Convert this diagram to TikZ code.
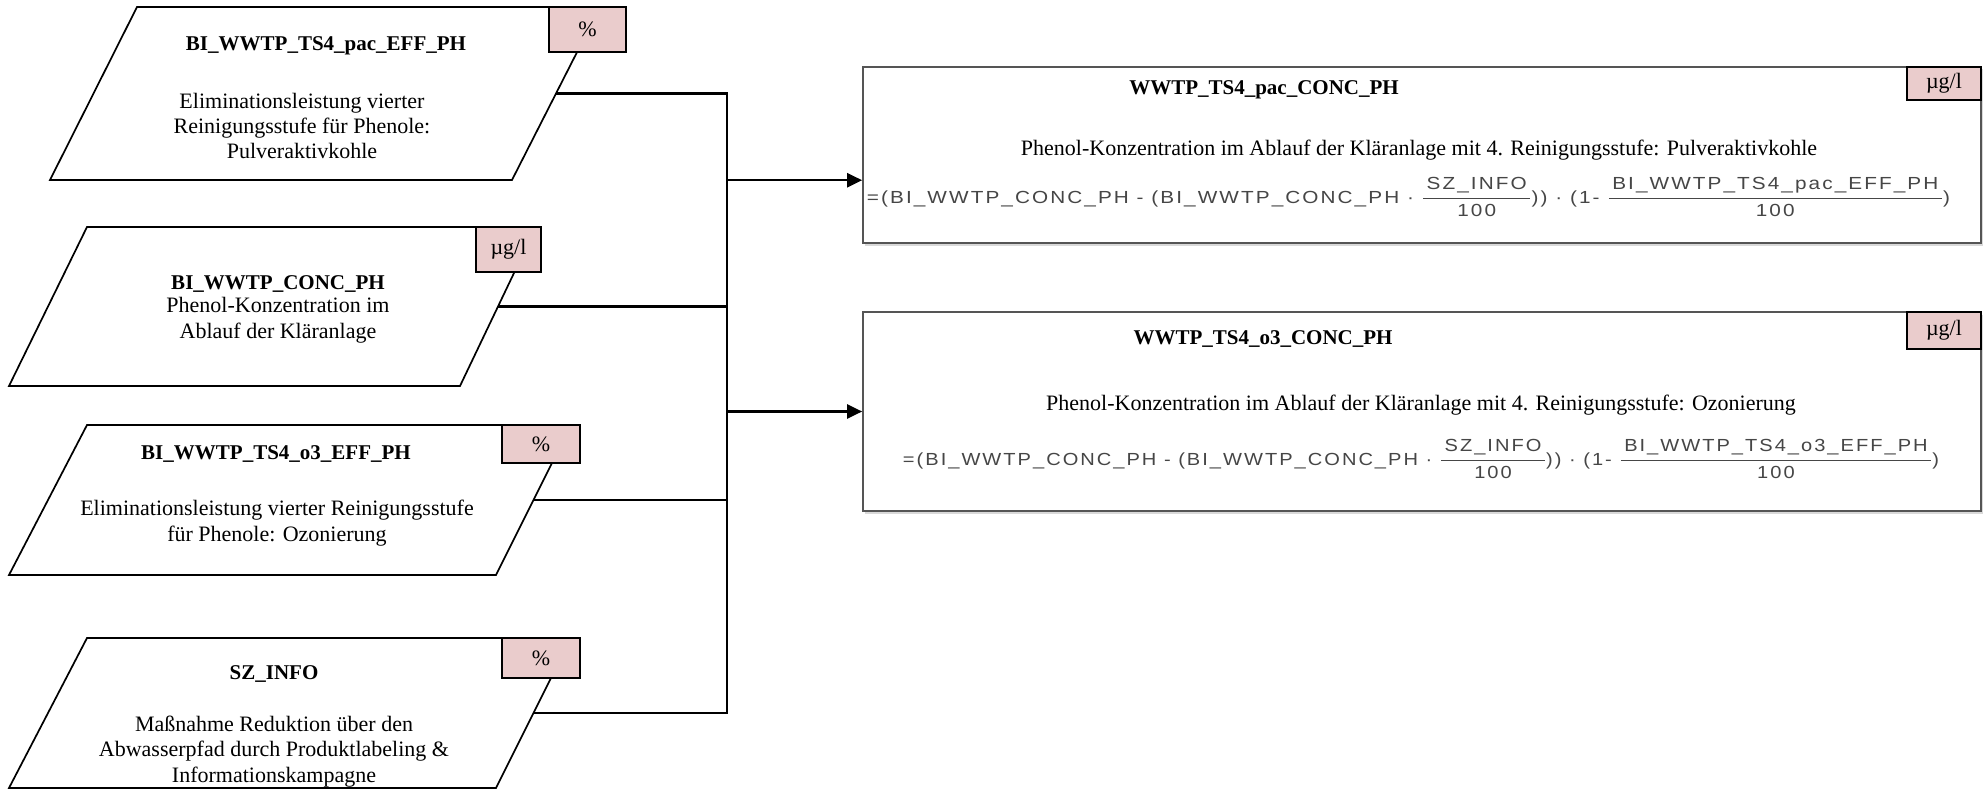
\documentclass[tikz,border=0pt]{standalone}
\usepackage{fontspec}
\usepackage{amsmath}
\usepackage{graphicx}
\setmainfont{Liberation Serif}
\newfontfamily\formfont{Liberation Sans}[LetterSpace=10]
\usetikzlibrary{arrows.meta,calc,shadows}
\definecolor{unitfill}{RGB}{234,204,204}
\definecolor{framegray}{RGB}{85,85,85}
\definecolor{formtext}{RGB}{70,70,70}
\newcommand\bodysize{\fontsize{22}{25.5}\selectfont}
\newcommand\titlesize{\fontsize{21}{25.5}\selectfont\bfseries}
\newcommand\formsize{\fontsize{17.5}{21}\selectfont}
\newcommand\ffrac[2]{$\genfrac{}{}{1.6pt}{0}{\text{\,#1\,}}{\text{#2}}$}

\begin{document}
\begin{tikzpicture}[x=1pt,y=-1pt,
  para/.style={draw=black,line width=1.7pt,line join=miter},
  unitbox/.style={draw=black,line width=1.7pt,fill=unitfill,inner sep=0pt,font=\bodysize},
  title/.style={anchor=base,inner sep=0pt,font=\titlesize},
  body/.style={anchor=base,inner sep=0pt,align=center,font=\bodysize},
  calcbox/.style={draw=framegray,line width=1.7pt,fill=white,inner sep=0pt,
    drop shadow={shadow xshift=1.5pt,shadow yshift=-2.5pt,fill=black,opacity=0.15}},
  formula/.style={anchor=base,inner sep=0pt,text=formtext,font=\formsize\formfont},
  link/.style={line width=2.3pt},
  feed/.style={link,-{Triangle[length=15pt,width=14pt]}}]

\useasboundingbox (0,0) rectangle (1984,789);

% ---------- input parameters (parallelograms) ----------
\coordinate (p1tl) at (137,7);  \coordinate (p1tr) at (600,7);
\coordinate (p1br) at (512,180); \coordinate (p1bl) at (50,180);
\coordinate (p2tl) at (87,227);  \coordinate (p2tr) at (536,227);
\coordinate (p2br) at (460,386); \coordinate (p2bl) at (9,386);
\coordinate (p3tl) at (87,425);  \coordinate (p3tr) at (571,425);
\coordinate (p3br) at (496,575); \coordinate (p3bl) at (9,575);
\coordinate (p4tl) at (87,638);  \coordinate (p4tr) at (571,638);
\coordinate (p4br) at (496,788); \coordinate (p4bl) at (9,788);

\foreach \p in {p1,p2,p3,p4}{
  \draw[para] (\p bl) -- (\p tl) -- (\p tr) -- (\p br) -- cycle;
  \coordinate (\p e) at ($(\p tr)!0.5!(\p br)$);
}

\node[unitbox,minimum width=77pt,minimum height=45pt] (u1) at (587.5,29.5) {\%};
\node[unitbox,minimum width=65pt,minimum height=45pt] (u2) at (508.5,249.5) {µg/l};
\node[unitbox,minimum width=78pt,minimum height=38pt] (u3) at (541,444) {\%};
\node[unitbox,minimum width=78pt,minimum height=40pt] (u4) at (541,658) {\%};

% multi-line texts are anchored at the baseline of their last line
\node[title] (t1) at (326,51) {BI\_WWTP\_TS4\_pac\_EFF\_PH};
\node[body]  (d1) at (302,159) {Eliminationsleistung vierter\\Reinigungsstufe für Phenole:\\Pulveraktivkohle};

\node[title] (t2) at (278,289) {BI\_WWTP\_CONC\_PH};
\node[body]  (d2) at (278,338) {Phenol-Konzentration im\\Ablauf der Kläranlage};

\node[title] (t3) at (276,459) {BI\_WWTP\_TS4\_o3\_EFF\_PH};
\node[body]  (d3) at (277,541) {Eliminationsleistung vierter Reinigungsstufe\\für Phenole: Ozonierung};

\node[title] (t4) at (274,679) {SZ\_INFO};
\node[body]  (d4) at (274,782) {Maßnahme Reduktion über den\\Abwasserpfad durch Produktlabeling \&\\Informationskampagne};

% ---------- calculated variables ----------
\node[calcbox,minimum width=1118pt,minimum height=176pt] (ca) at (1422,155) {};
\node[calcbox,minimum width=1118pt,minimum height=199pt] (cb) at (1422,411.5) {};

\node[unitbox,minimum width=74pt,minimum height=33pt] (ua) at (1944,83.5) {µg/l};
\node[unitbox,minimum width=74pt,minimum height=37pt] (ub) at (1944,330.5) {µg/l};

\node[title] (ta) at (1264,95) {WWTP\_TS4\_pac\_CONC\_PH};
\node[body]  (da) at (1419,156) {Phenol-Konzentration im Ablauf der Kläranlage mit 4. Reinigungsstufe: Pulveraktivkohle};
\node[formula] (fa) at (1408.5,203) {\resizebox{1083pt}{\height}{=(BI\_WWTP\_CONC\_PH - (BI\_WWTP\_CONC\_PH · \ffrac{SZ\_INFO}{100})) · (1- \ffrac{BI\_WWTP\_TS4\_pac\_EFF\_PH}{100})}};

\node[title] (tb) at (1263,344) {WWTP\_TS4\_o3\_CONC\_PH};
\node[body]  (db) at (1421,410) {Phenol-Konzentration im Ablauf der Kläranlage mit 4. Reinigungsstufe: Ozonierung};
\node[formula] (fb) at (1421,465) {\resizebox{1036pt}{\height}{=(BI\_WWTP\_CONC\_PH - (BI\_WWTP\_CONC\_PH · \ffrac{SZ\_INFO}{100})) · (1- \ffrac{BI\_WWTP\_TS4\_o3\_EFF\_PH}{100})}};

% ---------- connectors ----------
\coordinate (bus) at (727,0);
\coordinate (ina) at ($(ca.north west)!0.642!(ca.south west)$);
\draw[link] (p1e) -- (p1e -| bus) -- (p4e -| bus) -- (p4e);
\draw[link] (p2e) -- (p2e -| bus);
\draw[link] (p3e) -- (p3e -| bus);
\draw[feed] (ina -| bus) -- (ina);
\draw[feed] (cb.west -| bus) -- (cb.west);
\end{tikzpicture}
\end{document}
